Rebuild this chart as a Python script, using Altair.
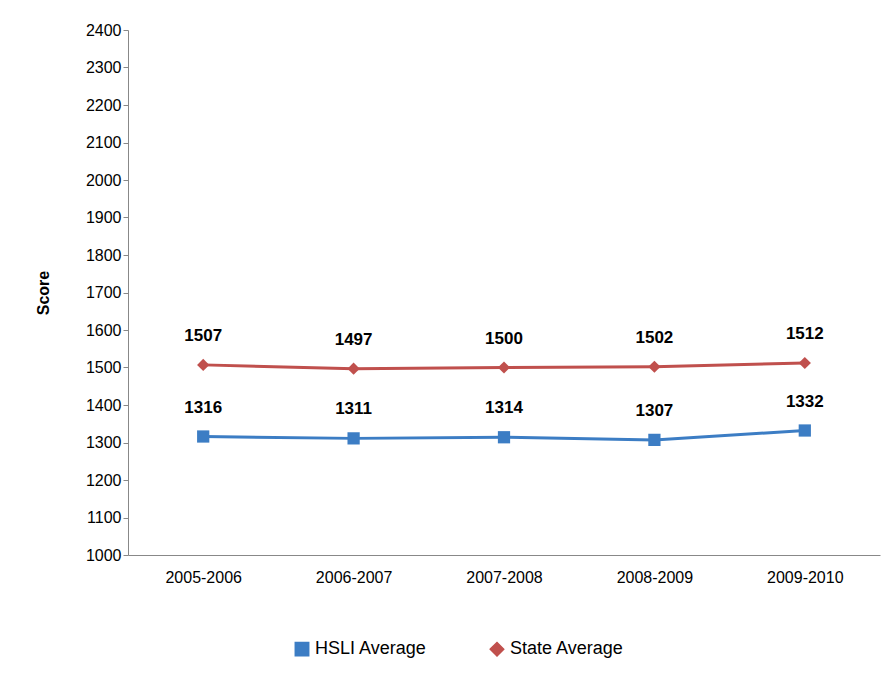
import altair as alt
import pandas as pd

years = ["2005-2006", "2006-2007", "2007-2008", "2008-2009", "2009-2010"]
hsli = [1316, 1311, 1314, 1307, 1332]
state = [1507, 1497, 1500, 1502, 1512]
series = ["HSLI Average", "State Average"]

df = pd.DataFrame(
    [{"Year": y, "Score": v, "Series": series[0]} for y, v in zip(years, hsli)]
    + [{"Year": y, "Score": v, "Series": series[1]} for y, v in zip(years, state)]
)

FONT = "Liberation Sans"
color = alt.Color("Series:N", scale=alt.Scale(domain=series, range=["#3C7DC4", "#C0504D"]),
                  legend=alt.Legend(title=None, orient="none", legendX=165, legendY=610,
                                    direction="horizontal", labelFontSize=18, labelFont=FONT,
                                    symbolSize=180, columnPadding=60, labelColor="#000"))
shape = alt.Shape("Series:N", scale=alt.Scale(domain=series, range=["square", "diamond"]))

x = alt.X("Year:N", sort=years, scale=alt.Scale(type="point", padding=0.5),
          axis=alt.Axis(title=None, labelAngle=0, labelFontSize=16, labelFont=FONT,
                        labelPadding=14, labelColor="#000", ticks=False, domainColor="#888"))
y = alt.Y("Score:Q", scale=alt.Scale(domain=[1000, 2400]),
          axis=alt.Axis(title="Score", values=list(range(1000, 2401, 100)), grid=False, format="d",
                        labelFontSize=16, labelFont=FONT, labelColor="#000", titleFontSize=16,
                        titleFont=FONT, titleFontWeight="bold", titlePadding=34,
                        tickColor="#888", domainColor="#888", tickSize=5))

base = alt.Chart(df).encode(x=x, y=y, color=color)
lines = base.mark_line(strokeWidth=3)
points = base.mark_point(filled=True, size=150, opacity=1).encode(shape=shape)
labels = base.mark_text(dy=-29, fontSize=17, fontWeight="bold", font=FONT, color="#000").encode(
    text="Score:Q", color=alt.value("#000"))

chart = alt.layer(lines, points, labels).properties(
    width=752, height=525,
    autosize=alt.AutoSizeParams(type="none"),
    padding={"left": 120, "top": 22, "right": 5, "bottom": 118},
).configure_view(stroke=None)

chart.save("out.html", embed_options={"renderer": "svg", "actions": False})
